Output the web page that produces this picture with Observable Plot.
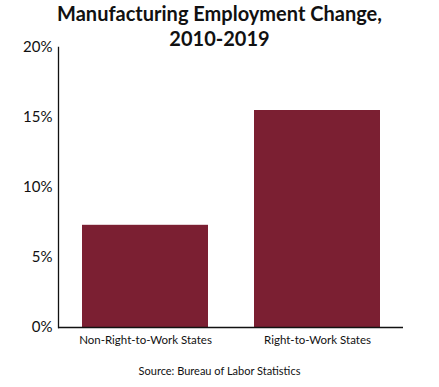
<!DOCTYPE html>
<html>
<head>
<meta charset="utf-8">
<script src="https://cdn.jsdelivr.net/npm/d3@7"></script>
<script src="https://cdn.jsdelivr.net/npm/@observablehq/plot@0.6"></script>
<style>
  body { margin: 0; background: #fff; font-family: Lato, "Open Sans", sans-serif; }
  #wrap { position: relative; width: 439px; height: 387px; }
  #title { position: absolute; left: 0; top: 1px; width: 439px; text-align: center; font-weight: 700; font-size: 20px; line-height: 25px; color: #111; }
  #chart { position: absolute; left: 0; top: 0; }
  #source { position: absolute; left: 0; top: 364px; width: 439px; text-align: center; font-size: 11px; color: #111; }
</style>
</head>
<body>
<div id="wrap">
  <div id="chart"></div>
  <div id="title">Manufacturing Employment Change,<br>2010-2019</div>
  <div id="source">Source: Bureau of Labor Statistics</div>
</div>
<script>
const categories = ["Non-Right-to-Work States", "Right-to-Work States"];
const values = [7.3, 15.5];
const yTicks = [0, 5, 10, 15, 20];

const data = categories.map((c, i) => ({category: c, value: values[i]}));

const chart = Plot.plot({
  width: 439,
  height: 355,
  marginTop: 47,
  marginBottom: 28,
  marginLeft: 58,
  marginRight: 36,
  style: {fontFamily: "Lato, 'Open Sans', sans-serif", color: "#111", background: "transparent"},
  x: {domain: categories, paddingInner: 0.27, paddingOuter: 0.135, label: null},
  y: {domain: [0, 20], label: null},
  marks: [
    Plot.barY(data, {x: "category", y: "value", fill: "#7b1f32"}),
    Plot.axisY({ticks: yTicks, tickSize: 0, tickPadding: 6, tickFormat: d => d + "%", fontSize: 15, label: null}),
    Plot.axisX({tickSize: 0, tickPadding: 8, fontSize: 11.5, label: null}),
    Plot.frame({anchor: "left", stroke: "#111", strokeWidth: 1.3}),
    Plot.ruleY([0], {stroke: "#111", strokeWidth: 1.3})
  ]
});
document.getElementById("chart").appendChild(chart);
</script>
</body>
</html>
